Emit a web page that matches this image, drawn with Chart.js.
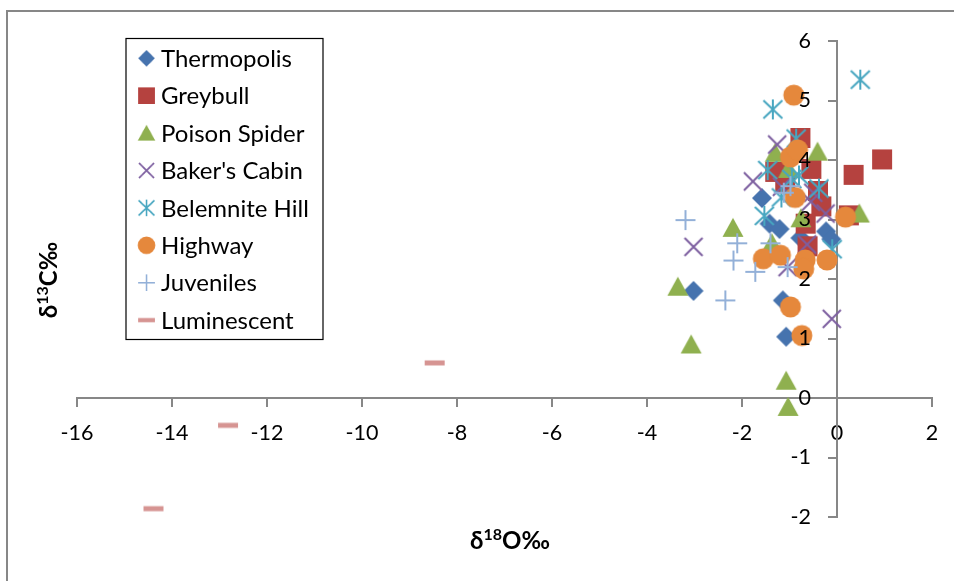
<!DOCTYPE html>
<html>
<head>
<meta charset="utf-8">
<script src="https://cdn.jsdelivr.net/npm/chart.js@4.4.1/dist/chart.umd.min.js"></script>
<style>
  html, body { margin: 0; padding: 0; background: #ffffff; }
  #wrap { position: relative; width: 954px; height: 581px; }
  canvas { display: block; }
</style>
</head>
<body>
<div id="wrap"><canvas id="chart" width="954" height="581"></canvas></div>
<script>
// δ18O (x) and δ13C (y) values per locality, in ‰
const thermopolisO = [-3.02, -1.58, -1.42, -1.21, -0.77, -0.23, -0.12, -1.14, -1.07];
const thermopolisC = [ 1.80,  3.36,  2.93,  2.84,  2.69,  2.80,  2.67,  1.64,  1.03];

const greybullO = [0.95, 0.35, -0.77, -1.30, -1.09, -0.54, -0.40, -0.33, -0.66, -0.62, 0.25];
const greybullC = [4.01, 3.75,  4.37,  3.80,  3.61,  3.85,  3.48,  3.22,  2.93,  2.55, 3.07];

const poisonSpiderO = [-3.07, -3.35, -2.19, -1.07, -1.03, 0.47, -0.41, -1.30, -1.02, -0.76, -1.37];
const poisonSpiderC = [ 0.90,  1.87,  2.86,  0.29, -0.15, 3.10,  4.14,  4.12,  3.85,  3.02,  2.60];

const bakersCabinO = [-3.02, -0.11, -1.04, -1.26, -1.77, -1.16, -0.50, -0.24, -0.63, -0.55];
const bakersCabinC = [ 2.54,  1.33,  2.20,  4.26,  3.64,  3.55,  3.45,  3.10,  2.58,  3.30];

const belemniteHillO = [0.49, -1.35, -0.86, -1.46, -0.80, -0.38, -1.53, -0.95, -1.17, -0.10];
const belemniteHillC = [5.35,  4.85,  4.36,  3.83,  3.74,  3.52,  3.06,  3.68,  3.37,  2.50];

const highwayO = [-0.91, -0.98, -0.83, -0.88, 0.18, -0.21, -1.55, -1.19, -0.67, -0.70, -0.98, -0.74];
const highwayC = [ 5.09,  4.05,  4.17,  3.37, 3.04,  2.32,  2.34,  2.40,  2.32,  2.17,  1.53,  1.05];

const juvenilesO = [-3.19, -2.10, -2.18, -1.72, -2.35, -1.40, -1.04, -0.98, -1.12];
const juvenilesC = [ 2.99,  2.60,  2.31,  2.12,  1.64,  2.60,  2.20,  3.56,  3.45];

const luminescentO = [-8.47, -12.82, -14.39];
const luminescentC = [ 0.59,  -0.46,  -1.86];

const seriesNames = ['Thermopolis', 'Greybull', 'Poison Spider', "Baker's Cabin",
                     'Belemnite Hill', 'Highway', 'Juveniles', 'Luminescent'];

// Marker sprites, drawn once and handed to Chart.js as image point styles
function makeMarker(kind, color) {
  const s = 24, c = s / 2;
  const cv = document.createElement('canvas');
  cv.width = s; cv.height = s;
  const g = cv.getContext('2d');
  g.fillStyle = color;
  g.strokeStyle = color;
  g.lineWidth = 2;
  g.beginPath();
  switch (kind) {
    case 'diamond':
      g.moveTo(c, c - 10); g.lineTo(c + 10, c); g.lineTo(c, c + 10); g.lineTo(c - 10, c);
      g.closePath(); g.fill();
      break;
    case 'square':
      g.fillRect(c - 10, c - 10, 20, 20);
      break;
    case 'triangle':
      g.moveTo(c, c - 10); g.lineTo(c + 10.5, c + 9); g.lineTo(c - 10.5, c + 9);
      g.closePath(); g.fill();
      break;
    case 'x':
      g.moveTo(c - 9, c - 9); g.lineTo(c + 9, c + 9);
      g.moveTo(c + 9, c - 9); g.lineTo(c - 9, c + 9);
      g.stroke();
      break;
    case 'star':
      g.moveTo(c, c - 10); g.lineTo(c, c + 10);
      g.moveTo(c - 9.5, c - 9); g.lineTo(c + 9.5, c + 9);
      g.moveTo(c + 9.5, c - 9); g.lineTo(c - 9.5, c + 9);
      g.stroke();
      break;
    case 'circle':
      g.arc(c, c, 10.5, 0, Math.PI * 2); g.fill();
      break;
    case 'plus':
      g.moveTo(c - 10, c); g.lineTo(c + 10, c);
      g.moveTo(c, c - 10); g.lineTo(c, c + 10);
      g.stroke();
      break;
    case 'dash':
      g.fillRect(c - 10, c - 2.5, 20, 5);
      break;
  }
  return cv;
}

const seriesStyle = [
  ['diamond',  '#4673AE'],
  ['square',   '#B5423F'],
  ['triangle', '#8FB04F'],
  ['x',        '#7D5FA0'],
  ['star',     '#47A6C0'],
  ['circle',   '#E5883C'],
  ['plus',     '#93B0D8'],
  ['dash',     '#D69492']
];

const seriesO = [thermopolisO, greybullO, poisonSpiderO, bakersCabinO, belemniteHillO, highwayO, juvenilesO, luminescentO];
const seriesC = [thermopolisC, greybullC, poisonSpiderC, bakersCabinC, belemniteHillC, highwayC, juvenilesC, luminescentC];

const datasets = seriesNames.map((name, i) => ({
  label: name,
  data: seriesO[i].map((o, k) => ({ x: o, y: seriesC[i][k] })),
  pointStyle: makeMarker(seriesStyle[i][0], seriesStyle[i][1]),
  pointRadius: 10,
  // later series sit on top of earlier ones
  order: seriesNames.length - i
}));

const TICK_FONT = { family: 'Lato', size: 21.5 };
const AXIS_GREY = '#878787';
const Y_LABEL_GAP = 26; // px between the vertical axis line and the right edge of its numbers

// White page with the outer chart frame (top and left edges)
const framePlugin = {
  id: 'frame',
  beforeDraw(chart) {
    const ctx = chart.ctx;
    ctx.save();
    ctx.fillStyle = '#ffffff';
    ctx.fillRect(0, 0, chart.width, chart.height);
    ctx.strokeStyle = AXIS_GREY;
    ctx.lineWidth = 2;
    ctx.beginPath();
    ctx.moveTo(7, chart.height + 2);
    ctx.lineTo(7, 11);
    ctx.lineTo(chart.width + 2, 11);
    ctx.stroke();
    ctx.restore();
  }
};

// Numbers of the vertical axis, set off to the left of its line and printed over the marks
const yNumbersPlugin = {
  id: 'yNumbers',
  afterDatasetsDraw(chart) {
    const ctx = chart.ctx, xs = chart.scales.x, ys = chart.scales.y;
    const right = xs.getPixelForValue(0) - Y_LABEL_GAP;
    ctx.save();
    ctx.font = TICK_FONT.size + 'px ' + TICK_FONT.family;
    ctx.fillStyle = '#000000';
    ctx.textAlign = 'right';
    ctx.textBaseline = 'middle';
    ys.ticks.forEach(t => {
      ctx.fillText(t.label, right, ys.getPixelForValue(t.value));
    });
    ctx.restore();
  }
};

// Boxed legend inside the plot area
const legendPlugin = {
  id: 'boxLegend',
  afterDraw(chart) {
    const ctx = chart.ctx;
    ctx.save();
    ctx.strokeStyle = '#000000';
    ctx.lineWidth = 1.2;
    ctx.strokeRect(126, 38.5, 197, 301);
    ctx.font = '24px Lato';
    ctx.fillStyle = '#000000';
    ctx.textBaseline = 'middle';
    chart.data.datasets.forEach((ds, i) => {
      const y = 58.3 + i * 37.4;
      ctx.drawImage(ds.pointStyle, 146.5 - 10, y - 10, 20, 20);
      ctx.fillText(ds.label, 161, y + 1);
    });
    ctx.restore();
  }
};

// Axis titles with raised isotope mass numbers
function drawRich(ctx, parts, cx, cy) {
  let total = 0;
  parts.forEach(p => { ctx.font = p.font; p.w = ctx.measureText(p.t).width; total += p.w; });
  let x = cx - total / 2;
  parts.forEach(p => {
    ctx.font = p.font;
    ctx.fillText(p.t, x, cy + (p.dy || 0));
    x += p.w;
  });
}

const titlePlugin = {
  id: 'axisTitles',
  afterDraw(chart) {
    const ctx = chart.ctx;
    ctx.save();
    ctx.fillStyle = '#000000';
    ctx.textBaseline = 'alphabetic';
    const big = 'bold 24px Lato', small = 'bold 16px Lato';
    drawRich(ctx, [
      { t: 'δ', font: big },
      { t: '18', font: small, dy: -9 },
      { t: 'O‰', font: big }
    ], 510, 549);
    ctx.translate(57, 280);
    ctx.rotate(-Math.PI / 2);
    drawRich(ctx, [
      { t: 'δ', font: big },
      { t: '13', font: small, dy: -9 },
      { t: 'C‰', font: big }
    ], 0, 0);
    ctx.restore();
  }
};

new Chart(document.getElementById('chart'), {
  type: 'scatter',
  data: { datasets },
  options: {
    responsive: false,
    animation: false,
    devicePixelRatio: 1,
    layout: { padding: { left: 77, right: 22, top: 41, bottom: 64 } },
    plugins: { legend: { display: false }, tooltip: { enabled: false } },
    scales: {
      x: {
        type: 'linear',
        position: { y: 0 },
        min: -16, max: 2,
        ticks: { stepSize: 2, font: TICK_FONT, color: '#000000', padding: 14 },
        grid: { drawOnChartArea: false, tickLength: 8, color: AXIS_GREY, lineWidth: 2 },
        border: { color: AXIS_GREY, width: 2 }
      },
      y: {
        type: 'linear',
        position: { x: 0 },
        min: -2, max: 6,
        // the numbers are printed by yNumbersPlugin
        ticks: { stepSize: 1, font: TICK_FONT, color: 'rgba(0,0,0,0)' },
        grid: { drawOnChartArea: false, tickLength: 8, color: AXIS_GREY, lineWidth: 2 },
        border: { color: AXIS_GREY, width: 2 }
      }
    }
  },
  plugins: [framePlugin, yNumbersPlugin, legendPlugin, titlePlugin]
});
</script>
</body>
</html>
